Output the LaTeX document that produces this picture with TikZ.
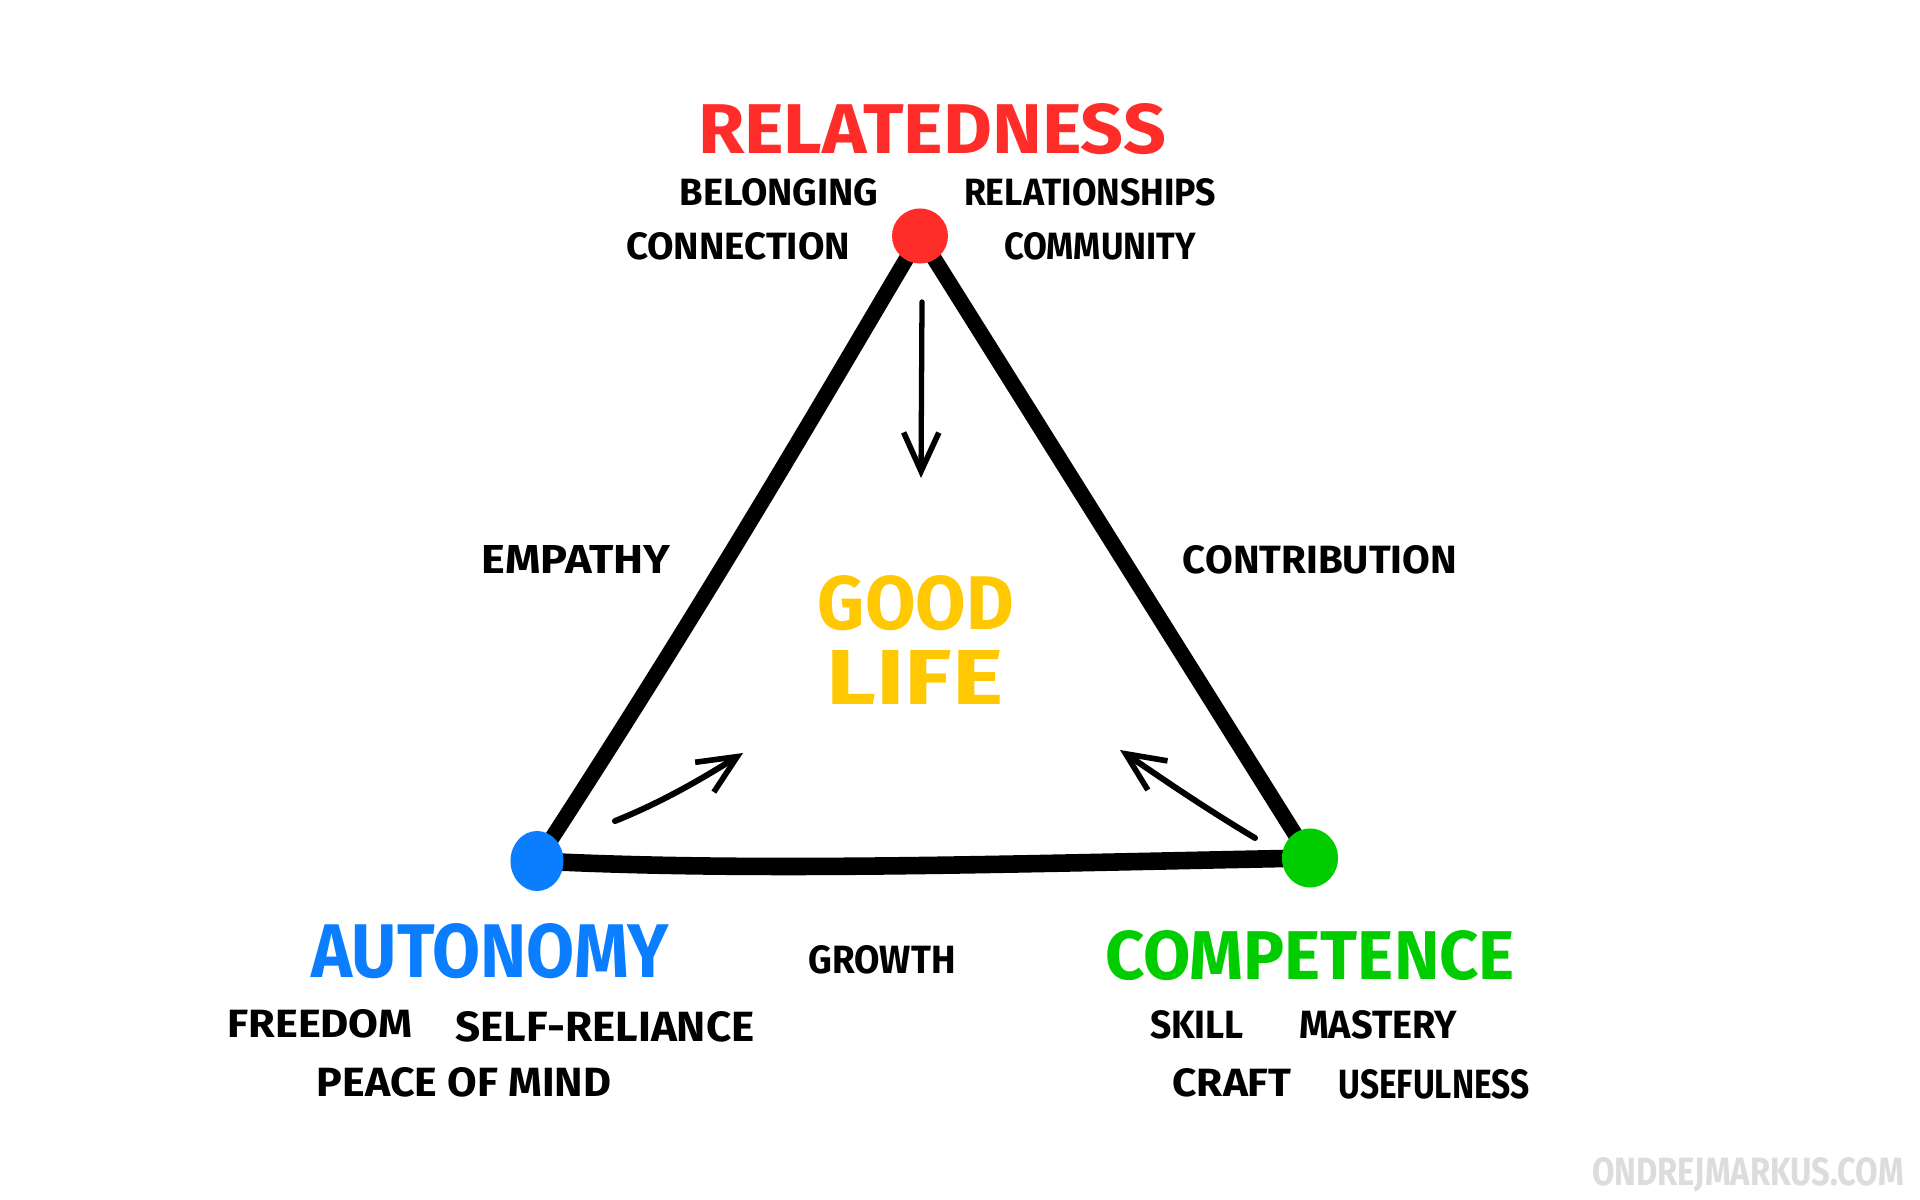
\documentclass[tikz,border=0pt]{standalone}
\usepackage{fontspec}
\setmainfont{Fira Sans}
\usetikzlibrary{arrows.meta,shapes.geometric,backgrounds}
\newlength\px \setlength\px{0.01cm}
\newcommand\fitword[3]{\resizebox{#1\px}{#2\px}{\bfseries #3}}
\definecolor{cred}{HTML}{FF2D2A}
\definecolor{cblue}{HTML}{0A7EFF}
\definecolor{cgreen}{HTML}{00CC00}
\definecolor{cyellow}{HTML}{FFC800}
\definecolor{cgray}{HTML}{DCDCDC}
\begin{document}
\begin{tikzpicture}[x=0.01cm,y=-0.01cm,
  lbl/.style={inner sep=0pt,outer sep=0pt,text=black},
  dot/.style={ellipse,inner sep=0pt,draw=none},
  edge/.style={line width=4.4pt,line cap=round,line join=round,black},
  pointer/.style={line width=1.5pt,line cap=round,black,-{Straight Barb[length=11pt,width=10pt,line width=1.6pt]}}]
\useasboundingbox (0,0) rectangle (1920,1200);

% titles
\node[lbl,text=cred] (rel) at (932,129) {\fitword{468}{50}{RELATEDNESS}};
\node[lbl,text=cblue] (aut) at (490,951) {\fitword{357}{54}{AUTONOMY}};
\node[lbl,text=cgreen] (com) at (1310,956) {\fitword{410}{49}{COMPETENCE}};
\node[lbl,text=cyellow] (good) at (916,603) {\fitword{196}{54}{GOOD}};
\node[lbl,text=cyellow] (life) at (915,677) {\fitword{177}{54}{LIFE}};

% small labels
\node[lbl] (bel) at (779,192) {\fitword{199}{27}{BELONGING}};
\node[lbl] (rls) at (1090,192) {\fitword{252}{27}{RELATIONSHIPS}};
\node[lbl] (con) at (738,246) {\fitword{224}{27}{CONNECTION}};
\node[lbl] (cmy) at (1100,246) {\fitword{192}{27}{COMMUNITY}};
\node[lbl] (emp) at (576,559) {\fitword{189}{28}{EMPATHY}};
\node[lbl] (ctb) at (1320,560) {\fitword{274}{28}{CONTRIBUTION}};
\node[lbl] (grw) at (882,960) {\fitword{147}{28}{GROWTH}};
\node[lbl] (frd) at (320,1024) {\fitword{185}{28}{FREEDOM}};
\node[lbl] (slf) at (605,1027) {\fitword{299}{30}{SELF-RELIANCE}};
\node[lbl] (pom) at (464,1082) {\fitword{294}{29}{PEACE OF MIND}};
\node[lbl] (skl) at (1197,1025) {\fitword{94}{28}{SKILL}};
\node[lbl] (mst) at (1378,1025) {\fitword{158}{28}{MASTERY}};
\node[lbl] (crf) at (1232,1083) {\fitword{119}{28}{CRAFT}};
\node[lbl] (use) at (1434,1084) {\fitword{191}{29}{USEFULNESS}};
\node[lbl,text=cgray] (web) at (1748,1175) {\fitword{312}{28}{ONDREJMARKUS.COM}};

% vertices
\node[dot,fill=cred,minimum width=0.56cm,minimum height=0.55cm] (R) at (920,236) {};
\node[dot,fill=cblue,minimum width=0.53cm,minimum height=0.60cm] (A) at (537,861) {};
\node[dot,fill=cgreen,minimum width=0.56cm,minimum height=0.59cm] (C) at (1310,858) {};

\begin{pgfonlayer}{background}
\fill[white] (0,0) rectangle (1920,1200);
\draw[edge] (R.center) .. controls (840,370) and (720,580) .. (A.center);
\draw[edge] (R.center) -- (C.center);
\draw[edge,line width=5pt] (A.center) .. controls (760,872) and (1000,864) .. (C.center);
\end{pgfonlayer}

% arrows
\coordinate (d1) at (922,302);
\coordinate (d2) at (921,478);
\coordinate (l1) at (615,821);
\coordinate (l2) at (743,753);
\coordinate (r1) at (1255,838);
\coordinate (r2) at (1120,750);
\draw[pointer] (d1) -- (d2);
\draw[pointer,line width=1.7pt] (l1) .. controls (660,803) and (700,780) .. (l2);
\draw[pointer,line width=1.7pt] (r1) .. controls (1200,805) and (1160,777) .. (r2);
\end{tikzpicture}
\end{document}
